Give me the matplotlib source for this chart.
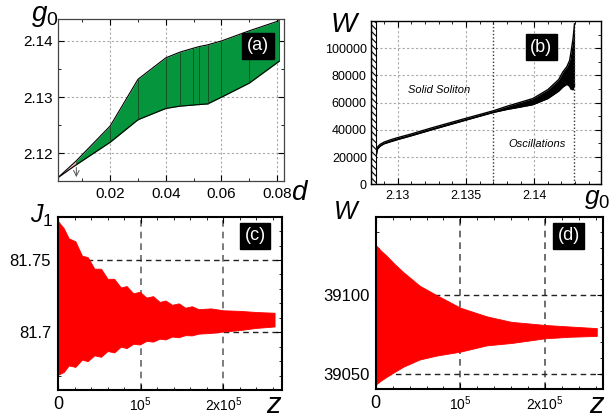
import numpy as np
import matplotlib
matplotlib.use("Agg")
import matplotlib.pyplot as plt
from matplotlib.ticker import MultipleLocator, FixedLocator, FixedFormatter

plt.rcParams['font.family'] = ['Liberation Sans', 'DejaVu Sans']
plt.rcParams['mathtext.fontset'] = 'custom'
plt.rcParams['mathtext.rm'] = 'Liberation Sans'
plt.rcParams['mathtext.it'] = 'Liberation Sans:italic'
plt.rcParams['hatch.linewidth'] = 0.8

# ---------------- data ----------------
# (a) stability band g0(d)
a_d = [0.0078, 0.02, 0.03, 0.04, 0.045, 0.0498, 0.052, 0.055, 0.06, 0.07, 0.0808]
a_upper = [2.1187, 2.1249, 2.1332, 2.1370, 2.1380, 2.1387, 2.1390, 2.1393, 2.1400, 2.1418, 2.1436]
a_lower = [2.1180, 2.1220, 2.1260, 2.1280, 2.1284, 2.1286, 2.1287, 2.1288, 2.1300, 2.1325, 2.1364]
a_pink_d = [0.0012, 0.0078]
a_pink_upper = [2.1157, 2.1187]
a_pink_lower = [2.1157, 2.1180]
a_arrow_d = 0.0078

# (b) W versus g0
b_g = [2.12846, 2.1285, 2.1287, 2.1290, 2.1295, 2.1300, 2.1310, 2.1325, 2.1350, 2.1370,
       2.1380, 2.1390, 2.1399, 2.1410, 2.1418, 2.1421, 2.1424, 2.1426, 2.1427, 2.14285, 2.14296]
b_upper = [24500, 27300, 29300, 31000, 32800, 34300, 37000, 41500, 48500, 54000,
           57300, 60300, 63000, 69500, 77000, 82500, 86500, 91000, 97000, 107000, 117800]
b_lower = [22500, 25700, 28000, 29800, 31400, 32900, 35700, 40100, 47200, 52800,
           55000, 56800, 58500, 63000, 68500, 71500, 73500, 72000, 70000, 69500, 73000]
b_wall = 2.1284
b_marks = [2.137, 2.1429]

# (c) J1 envelope versus z (z in thousands)
c_z = [0, 7, 13, 21, 29, 36, 44, 52, 60, 68, 76, 83, 91, 99, 107, 115, 123, 130,
       138, 146, 154, 162, 170, 185, 200, 220, 240, 262]
c_upper = [81.777, 81.772, 81.765, 81.763, 81.753, 81.752, 81.744, 81.744, 81.737, 81.737,
           81.731, 81.732, 81.727, 81.728, 81.724, 81.725, 81.721, 81.722, 81.719, 81.720,
           81.717, 81.718, 81.716, 81.7165, 81.7152, 81.7148, 81.714, 81.7135]
c_lower = [81.6705, 81.6725, 81.677, 81.676, 81.681, 81.680, 81.684, 81.683, 81.687, 81.686,
           81.690, 81.689, 81.692, 81.6915, 81.694, 81.6935, 81.6955, 81.695, 81.697, 81.6965,
           81.698, 81.6978, 81.699, 81.6995, 81.7005, 81.7015, 81.703, 81.704]

# (d) W envelope versus z (z in thousands)
d_z = [0, 6, 13, 22, 33, 52, 72, 100, 131, 160, 200, 230, 261]
d_upper = [39132, 39128.5, 39125, 39120, 39114.5, 39106, 39100, 39092, 39086.5, 39083, 39081, 39080, 39079]
d_lower = [39043, 39045.5, 39048, 39051, 39054.5, 39059, 39061.5, 39064, 39068, 39069.5, 39072.5, 39073.5, 39074]

W, H = 613, 419


def px(x, y):
    return x / W, 1 - y / H


def box(x0, y0, x1, y1):
    return [x0 / W, 1 - y1 / H, (x1 - x0) / W, (y1 - y0) / H]


def style_ticks(ax, size, pad):
    ax.tick_params(which='both', direction='in', top=True, right=True, labelsize=size, pad=pad)
    ax.tick_params(which='major', length=4)
    ax.tick_params(which='minor', length=2.2)


def tag(ax, x, y, s):
    ax.text(x, y, s, transform=ax.transAxes, color='white', fontsize=13, ha='center', va='center',
            bbox=dict(boxstyle='square,pad=0.25', facecolor='black', edgecolor='black'), zorder=10)


fig = plt.figure(figsize=(W / 100, H / 100), dpi=100)

# ---------------- (a) ----------------
ax = fig.add_axes(box(58, 19, 284, 181))
ax.fill_between(a_pink_d, a_pink_lower, a_pink_upper, color='#f3b3b3', lw=0)
ax.fill_between(a_d, a_lower, a_upper, color='#04953d', lw=0)
ax.plot([a_pink_d[0]] + a_d, [a_pink_upper[0]] + a_upper, color='black', lw=0.8)
ax.plot([a_pink_d[0]] + a_d, [a_pink_lower[0]] + a_lower, color='black', lw=0.8)
ax.vlines(a_d, a_lower, a_upper, color='#1a3a1a', lw=0.5)
ax.annotate('', xy=(a_arrow_d, 2.1153), xytext=(a_arrow_d, a_lower[0]),
            arrowprops=dict(arrowstyle='->', color='#555555', lw=0.7))
ax.set_xlim(0.0012, 0.0825)
ax.set_ylim(2.1151, 2.1439)
ax.xaxis.set_major_locator(FixedLocator([0.02, 0.04, 0.06, 0.08]))
ax.xaxis.set_major_formatter(FixedFormatter(['0.02', '0.04', '0.06', '0.08']))
ax.xaxis.set_minor_locator(MultipleLocator(0.01))
ax.yaxis.set_major_locator(FixedLocator([2.12, 2.13, 2.14]))
ax.yaxis.set_major_formatter(FixedFormatter(['2.12', '2.13', '2.14']))
ax.yaxis.set_minor_locator(MultipleLocator(0.005))
ax.grid(True, which='major', color='#a8a8a8', ls=(0, (2, 2)), lw=0.8)
ax.set_axisbelow(True)
style_ticks(ax, 11, 4)
for s in ax.spines.values():
    s.set_color('#444444')
    s.set_linewidth(0.9)
tag(ax, 0.885, 0.835, '(a)')

# ---------------- (b) ----------------
ax = fig.add_axes(box(371, 21, 601, 184.3))
ax.axvspan(2.12804, b_wall, facecolor='white', edgecolor='black', hatch='\\\\\\\\\\', lw=0.8)
for g in b_marks:
    ax.axvline(g, color='#333333', ls=(0, (1, 1.5)), lw=1.0)
ax.fill_between(b_g, b_lower, b_upper, color='black', lw=0)
ax.plot(b_g, b_upper, color='black', lw=1.0)
ax.plot(b_g, b_lower, color='black', lw=1.0)
ax.text(2.13303, 69500, 'Solid Soliton', style='italic', fontsize=8, ha='center', va='center')
ax.text(2.14021, 29300, 'Oscillations', style='italic', fontsize=8, ha='center', va='center')
ax.set_xlim(2.12804, 2.1449)
ax.set_ylim(0, 120000)
ax.xaxis.set_major_locator(FixedLocator([2.13, 2.135, 2.14]))
ax.xaxis.set_major_formatter(FixedFormatter(['2.13', '2.135', '2.14']))
ax.xaxis.set_minor_locator(MultipleLocator(0.001))
ax.yaxis.set_major_locator(FixedLocator([0, 20000, 40000, 60000, 80000, 100000]))
ax.yaxis.set_major_formatter(FixedFormatter(['0', '20000', '40000', '60000', '80000', '100000']))
ax.yaxis.set_minor_locator(MultipleLocator(10000))
ax.grid(True, which='major', color='#a8a8a8', ls=(0, (2, 2)), lw=0.8)
ax.set_axisbelow(True)
style_ticks(ax, 9, 3)
ax.tick_params(axis='x', pad=4)
for s in ax.spines.values():
    s.set_linewidth(1.0)
tag(ax, 0.74, 0.84, '(b)')

# ---------------- (c) ----------------
ax = fig.add_axes(box(58, 216.7, 282, 390))
cz = np.array(c_z) * 1e3
ax.fill_between(cz, c_lower, c_upper, color='#ff0000', lw=0.6, edgecolor='#ff0000')
ax.set_xlim(0, 2.71e5)
ax.set_ylim(81.66, 81.78)
ax.xaxis.set_major_locator(FixedLocator([0, 1e5, 2e5]))
ax.xaxis.set_major_formatter(FixedFormatter(['0', r'$10^5$', r'$2\mathrm{x}10^5$']))
ax.xaxis.set_minor_locator(MultipleLocator(2e4))
ax.yaxis.set_major_locator(FixedLocator([81.7, 81.75]))
ax.yaxis.set_major_formatter(FixedFormatter(['81.7', '81.75']))
ax.yaxis.set_minor_locator(MultipleLocator(0.01))
ax.xaxis.grid(True, color='#666666', ls=(0, (4, 3)), lw=1.2)
ax.yaxis.grid(True, color='#222222', ls=(0, (4, 3)), lw=1.0)
ax.set_axisbelow(True)
style_ticks(ax, 12, 5)
ax.tick_params(axis='x', labelsize=10, pad=4)
ax.get_xticklabels()[0].set_fontsize(13)
for s in ax.spines.values():
    s.set_linewidth(1.5)
tag(ax, 0.88, 0.89, '(c)')

# ---------------- (d) ----------------
ax = fig.add_axes(box(375.7, 216.7, 602.7, 389.3))
dz = np.array(d_z) * 1e3
ax.fill_between(dz, d_lower, d_upper, color='#ff0000', lw=0.6, edgecolor='#ff0000')
ax.set_xlim(0, 2.68e5)
ax.set_ylim(39040, 39150)
ax.xaxis.set_major_locator(FixedLocator([0, 1e5, 2e5]))
ax.xaxis.set_major_formatter(FixedFormatter(['0', r'$10^5$', r'$2\mathrm{x}10^5$']))
ax.xaxis.set_minor_locator(MultipleLocator(2e4))
ax.yaxis.set_major_locator(FixedLocator([39050, 39100]))
ax.yaxis.set_major_formatter(FixedFormatter(['39050', '39100']))
ax.yaxis.set_minor_locator(MultipleLocator(10))
ax.xaxis.grid(True, color='#555555', ls=(0, (4, 3)), lw=1.2)
ax.yaxis.grid(True, color='#222222', ls=(0, (4, 3)), lw=1.0)
ax.set_axisbelow(True)
style_ticks(ax, 12, 4)
ax.tick_params(axis='x', labelsize=10, pad=4)
ax.get_xticklabels()[0].set_fontsize(13)
for s in ax.spines.values():
    s.set_linewidth(1.5)
tag(ax, 0.85, 0.89, '(d)')

# ---------------- axis names ----------------
fig.text(*px(31, 21), r'$g_0$', fontsize=20, va='baseline')
fig.text(*px(291, 200), r'$d$', fontsize=20, va='baseline')
fig.text(*px(330, 32), r'$W$', fontsize=20, va='baseline')
fig.text(*px(584, 204), r'$g_0$', fontsize=19, va='baseline')
fig.text(*px(30, 223), r'$J_1$', fontsize=18, va='baseline')
fig.text(*px(266, 413), r'$z$', fontsize=21, va='baseline')
fig.text(*px(333, 219), r'$W$', fontsize=18, va='baseline')
fig.text(*px(589, 413), r'$z$', fontsize=21, va='baseline')

fig.savefig('out.png', dpi=100)
